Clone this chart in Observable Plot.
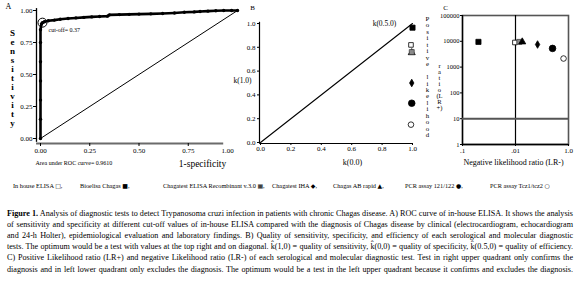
<!DOCTYPE html>
<html><head><meta charset="utf-8">
<script src="https://cdn.jsdelivr.net/npm/d3@7"></script>
<script src="https://cdn.jsdelivr.net/npm/@observablehq/plot@0.6"></script>
<style>
html,body{margin:0;padding:0;background:#fff;}
#root{position:relative;width:579px;height:282px;overflow:hidden;background:#fff;font-family:'Liberation Serif','Times New Roman',serif;color:#000;}
.panel{position:absolute;top:0;}
.leg{position:absolute;white-space:nowrap;font-size:6.3px;top:181.5px;line-height:7px;}
.sym{font-family:'DejaVu Sans',sans-serif;font-size:6px;}
</style></head><body><div id="root"></div>
<script>
// ---------- data ----------
// Panel A: ROC curve of in-house ELISA
const rocFpr = [0,0,0,0,0,0,0,0.005,0.01,0.02,0.04,0.07,0.1,0.14,0.18,0.22,0.26,0.3,0.34,0.35,0.4,0.45,0.5,0.56,0.62,0.68,0.73,0.78,0.81,0.85,0.89,0.93,0.97,1.0];
const rocTpr = [0,0.15,0.3,0.45,0.6,0.75,0.85,0.895,0.905,0.912,0.92,0.925,0.932,0.937,0.942,0.946,0.95,0.953,0.956,0.966,0.968,0.970,0.972,0.974,0.977,0.981,0.986,0.989,0.992,0.995,0.998,1.0,1.0,1.0];
const cutoffFpr = 0.01, cutoffTpr = 0.905, cutoffValue = "0.37";
const aucValue = "0.9610";
const ticksA = [0, 0.25, 0.5, 0.75, 1];

// Tests (panels B and C)
const testNames = ["In house ELISA", "Bioelisa Chagas", "Chagatest ELISA Recombinant v.3.0", "Chagatest IHA", "Chagas AB rapid", "PCR assay 121/122", "PCR assay Tcz1/tcz2"];
const kSpec = [0.99, 1.0, 0.995, 0.995, 0.995, 0.995, 0.99];   // k(0,0)
const kSens = [0.82, 0.965, 0.76, 0.50, 0.755, 0.33, 0.15];    // k(1,0)
const lrNeg = [0.0095, 0.0004, 0.014, 0.068, 0.018, 0.25, 0.65]; // LR-
const lrPos = [9000, 9500, 9500, 7500, 9500, 5300, 2150];        // LR+
const ticksB = [0, 0.2, 0.4, 0.6, 0.8, 1.0];
const ticksCy = [1, 10, 100, 1000, 10000, 100000];
const ticksCx = [0.0001, 0.01, 1];
const labelsCx = [".1", ".01", "1.0"];
const legendSymbols = ["\u25A1", "\u25A0", "\u25A6", "\u25C6", "\u25B2", "\u25CF", "\u25CB"];

// ---------- styles ----------
const markerStyle = {
  "In house ELISA": {symbol: "square", fill: "white", stroke: "black", r: 2.6},
  "Bioelisa Chagas": {symbol: "square", fill: "black", stroke: "black", r: 2.9},
  "Chagatest ELISA Recombinant v.3.0": {symbol: "square", fill: "#8a8a8a", stroke: "#444", r: 2.8},
  "Chagatest IHA": {symbol: "diamond", fill: "black", stroke: "black", r: 2.3},
  "Chagas AB rapid": {symbol: "triangle", fill: "black", stroke: "black", r: 2.6},
  "PCR assay 121/122": {symbol: "circle", fill: "black", stroke: "black", r: 3.3},
  "PCR assay Tcz1/tcz2": {symbol: "circle", fill: "white", stroke: "black", r: 2.8}
};
const drawOrderB = [4, 0, 1, 2, 3, 5, 6];
const drawOrderC = [0, 1, 2, 4, 3, 5, 6];

const roc = rocFpr.map((f, i) => ({fpr: f, tpr: rocTpr[i]}));
const cutoff = {fpr: cutoffFpr, tpr: cutoffTpr, value: cutoffValue};
const diag = [{x: 0, y: 0}, {x: 1, y: 1}];
const tests = testNames.map((n, i) => ({name: n, kSpec: kSpec[i], kSens: kSens[i], lrNeg: lrNeg[i], lrPos: lrPos[i]}));

const baseStyle = {fontFamily: "'Liberation Serif', 'Times New Roman', serif", fontSize: "7px", background: "transparent", overflow: "visible", color: "black"};
const fmt2 = d3.format(".2f"), fmt1 = d3.format(".1f");

function markerMarks(order, xKey, yKey) {
  return order.map(i => {
    const s = markerStyle[tests[i].name];
    return Plot.dot([tests[i]], {x: xKey, y: yKey, symbol: s.symbol, r: s.r, fill: s.fill, stroke: s.stroke, strokeWidth: 0.8});
  });
}

const root = document.getElementById("root");
function place(el, left) { el.classList.add("panel"); el.style.left = left + "px"; root.appendChild(el); }

// ---------- Panel A ----------
const plotA = Plot.plot({
  width: 250, height: 172, marginLeft: 40, marginRight: 13, marginTop: 10, marginBottom: 34,
  x: {domain: [0, 1], axis: null, label: null},
  y: {domain: [0, 1], axis: null, label: null},
  style: baseStyle,
  marks: [
    Plot.ruleX([0], {y1: -0.03, y2: 1.015, dx: -4, stroke: "black", strokeWidth: 1.3}),
    Plot.ruleY([0], {x1: -0.02, x2: 0.93, dy: 5, stroke: "#6b6b6b", strokeWidth: 2}),
    Plot.axisY({ticks: ticksA, tickFormat: fmt2, tickSize: 3, tickPadding: 1, dx: -4, fontSize: 7, label: null}),
    Plot.axisX({ticks: ticksA.slice(0, -1), tickFormat: fmt2, tickSize: 3, tickPadding: 2, dy: 5, fontSize: 7, label: null}),
    Plot.axisX({ticks: ticksA.slice(-1), tickFormat: fmt2, tickSize: 0, tickPadding: 5, dy: 5, dx: -10, fontSize: 7, label: null}),
    Plot.line(diag, {x: "x", y: "y", stroke: "black", strokeWidth: 1}),
    Plot.line(roc, {x: "fpr", y: "tpr", stroke: "black", strokeWidth: 2.6}),
    Plot.dot(roc, {x: "fpr", y: "tpr", r: 1.7, fill: "black"}),
    Plot.dot([cutoff], {x: "fpr", y: "tpr", r: 4.5, stroke: "black", fill: "none", strokeWidth: 1}),
    Plot.text([cutoff], {x: "fpr", y: "tpr", text: d => "cut-off= " + d.value, dx: 6, dy: 7, textAnchor: "start", lineAnchor: "middle", fontSize: 6}),
    Plot.text(["A"], {frameAnchor: "top-left", dx: -32, dy: -4, textAnchor: "middle", lineAnchor: "middle", fontSize: 8}),
    Plot.text(["Sensitivity".split("").join("\n")], {frameAnchor: "left", dx: -28, dy: 4, textAnchor: "middle", lineAnchor: "middle", lineHeight: 1, fontSize: 9, fontWeight: "bold"}),
    Plot.text(["Area under ROC curve= " + aucValue], {frameAnchor: "bottom-left", dx: -5, dy: 25, textAnchor: "start", lineAnchor: "middle", fontSize: 6}),
    Plot.text(["1-specificity"], {frameAnchor: "bottom-left", dx: 162, dy: 25, textAnchor: "middle", lineAnchor: "middle", fontSize: 9.5})
  ]
});
place(plotA, 0);

// ---------- Panel B ----------
const plotB = Plot.plot({
  width: 185, height: 172, marginLeft: 20, marginRight: 13, marginTop: 23, marginBottom: 30,
  x: {domain: [0, 1], axis: null, label: null},
  y: {domain: [0, 1], axis: null, label: null},
  style: baseStyle,
  marks: [
    Plot.ruleX([0], {y1: -0.01, y2: 1.01, dx: -1, stroke: "black", strokeWidth: 1.2}),
    Plot.ruleY([0], {x1: -0.005, x2: 1.005, dy: 1, stroke: "black", strokeWidth: 1.2}),
    Plot.axisY({ticks: ticksB, tickFormat: fmt1, tickSize: 2, tickPadding: 2, dx: -1, fontSize: 7, label: null}),
    Plot.axisX({ticks: ticksB, tickFormat: fmt1, tickSize: 2, tickPadding: 1, dy: 1, fontSize: 7, label: null}),
    Plot.line(diag, {x: "x", y: "y", stroke: "black", strokeWidth: 1.1}),
    ...markerMarks(drawOrderB, "kSpec", "kSens"),
    Plot.text(["B"], {frameAnchor: "top-left", dx: -8, dy: -16, textAnchor: "middle", lineAnchor: "middle", fontSize: 7}),
    Plot.text(["k(1.0)"], {frameAnchor: "left", dx: -18, dy: -2, textAnchor: "middle", lineAnchor: "middle", fontSize: 7.5}),
    Plot.text(["k(0.0)"], {frameAnchor: "bottom", dx: 16, dy: 20, textAnchor: "middle", lineAnchor: "middle", fontSize: 8}),
    Plot.text(["k(0.5.0)"], {frameAnchor: "top-right", dx: -28, dy: 0, textAnchor: "middle", lineAnchor: "middle", fontSize: 7.5})
  ]
});
place(plotB, 240);

// ---------- Panel C ----------
const plotC = Plot.plot({
  width: 179, height: 172, marginLeft: 62, marginRight: 11, marginTop: 15, marginBottom: 28,
  x: {type: "log", domain: [0.0001, 1], axis: null, label: null},
  y: {type: "log", domain: [1, 100000], axis: null, label: null},
  style: baseStyle,
  marks: [
    Plot.frame({stroke: "#555", strokeWidth: 1.6}),
    Plot.ruleX([0.0001], {stroke: "black", strokeWidth: 1.3}),
    Plot.ruleY([1], {stroke: "black", strokeWidth: 1.3}),
    Plot.ruleX([0.01], {stroke: "black", strokeWidth: 1.2}),
    Plot.ruleY([10], {stroke: "#555", strokeWidth: 2}),
    Plot.axisY({ticks: ticksCy, tickFormat: d => String(d), tickSize: 2, tickPadding: 1, fontSize: 6.5, label: null}),
    Plot.axisX({ticks: ticksCx, tickFormat: d => labelsCx[ticksCx.indexOf(d)], tickSize: 2, tickPadding: 2, fontSize: 7, label: null}),
    ...markerMarks(drawOrderC, "lrNeg", "lrPos"),
    Plot.text(["C"], {frameAnchor: "top-left", dx: -17, dy: -8, textAnchor: "middle", lineAnchor: "middle", fontSize: 7}),
    Plot.text([["P","o","s","i","t","i","v","e","","l","i","k","e","l","i","h","o","o","d"].join("\n")], {frameAnchor: "left", dx: -35, dy: -3, textAnchor: "middle", lineAnchor: "middle", lineHeight: 0.95, fontSize: 6.8}),
    Plot.text([["r","a","t","i","o","(L","R","+)"].join("\n")], {frameAnchor: "left", dx: -23, dy: 7, textAnchor: "middle", lineAnchor: "middle", lineHeight: 0.9, fontSize: 6.6}),
    Plot.text(["Negative likelihood ratio (LR-)"], {frameAnchor: "bottom", dx: -2, dy: 18, textAnchor: "middle", lineAnchor: "middle", fontSize: 8})
  ]
});
place(plotC, 400);

// ---------- Legend ----------
const legendLeft = [13, 80, 163, 272, 333, 405, 490];
testNames.forEach((n, i) => {
  const s = document.createElement("span");
  s.className = "leg";
  s.style.left = legendLeft[i] + "px";
  s.innerHTML = n + " <span class='sym'>" + legendSymbols[i] + "</span>" + (i < testNames.length - 1 ? "," : "");
  root.appendChild(s);
});

// ---------- Caption (justified lines) ----------
const captionLines = [
  [["Figure 1.", "bold"], [" Analysis of diagnostic tests to detect Trypanosoma cruzi infection in patients with chronic Chagas disease. A) ROC curve of in-house ELISA. It shows the analysis", "normal"]],
  [["of sensitivity and specificity at different cut-off values of in-house ELISA compared with the diagnosis of Chagas disease by clinical (electrocardiogram, echocardiogram", "normal"]],
  [["and 24-h Holter), epidemiological evaluation and laboratory findings. B) Quality of sensitivity, specificity, and efficiency of each serological and molecular diagnostic", "normal"]],
  [["tests. The optimum would be a test with values at the top right and on diagonal. k\u0302(1,0) = quality of sensitivity, k\u0302(0,0) = quality of specificity, k\u0302(0.5,0) = quality of efficiency.", "normal"]],
  [["C) Positive Likelihood ratio (LR+) and negative Likelihood ratio (LR-) of each serological and molecular diagnostic test. Test in right upper quadrant only confirms the", "normal"]],
  [["diagnosis and in left lower quadrant only excludes the diagnosis. The optimum would be a test in the left upper quadrant because it confirms and excludes the diagnosis.", "normal"]]
];
const capWidth = 566;
const cap = d3.create("svg").attr("width", 579).attr("height", 282)
  .style("position", "absolute").style("left", "0px").style("top", "0px")
  .style("font-family", "'Liberation Serif', 'Times New Roman', serif").style("font-size", "7px");
root.appendChild(cap.node());
const capTexts = captionLines.map((parts, i) => {
  const t = cap.append("text").attr("x", 7).attr("y", 215.5 + i * 11.2).attr("fill", "black");
  parts.forEach(([s, w]) => t.append("tspan").attr("font-weight", w).text(s));
  return t;
});
// size the font so that the longest line just fills the width, then justify the others
const maxNat = d3.max(capTexts, t => t.node().getComputedTextLength());
const capFont = Math.min(8.5, 7 * (capWidth - 2) / maxNat);
cap.style("font-size", capFont.toFixed(2) + "px");
capTexts.forEach((t, i) => {
  const natural = t.node().getComputedTextLength();
  const spaces = captionLines[i].map(p => p[0]).join("").split(" ").length - 1;
  if (natural <= capWidth) t.attr("word-spacing", ((capWidth - natural) / spaces).toFixed(3));
  else t.attr("textLength", capWidth).attr("lengthAdjust", "spacingAndGlyphs");
});
</script></body></html>
